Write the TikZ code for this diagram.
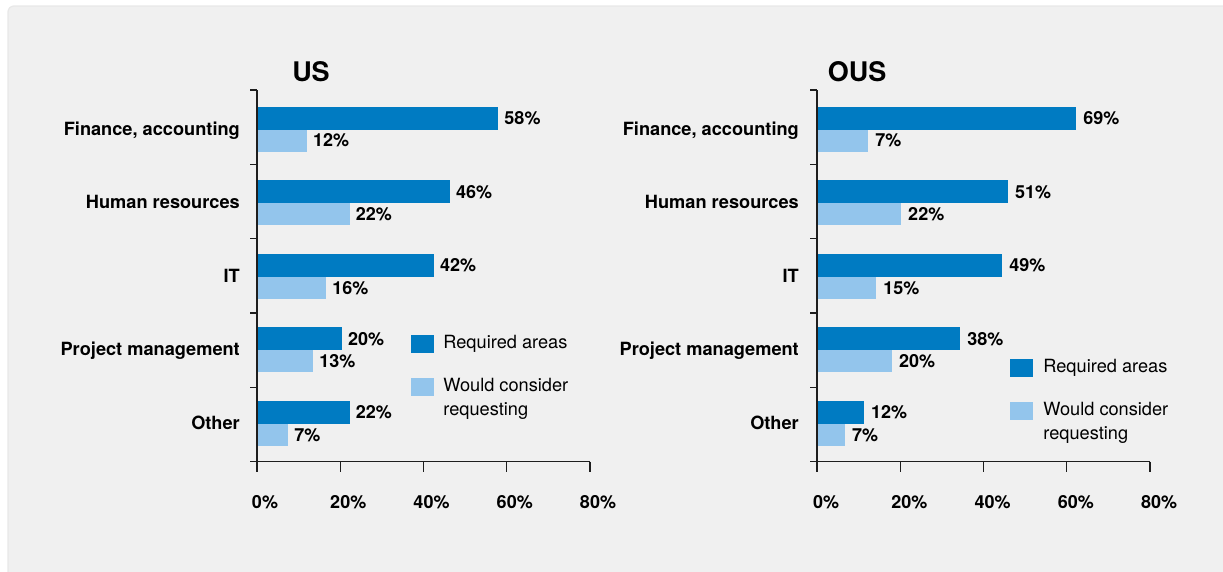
\documentclass[tikz,border=0pt]{standalone}
\usepackage{fontspec}
\setmainfont{TeX Gyre Heros}
\usepackage{xcolor}
\usetikzlibrary{positioning}
\definecolor{reqblue}{HTML}{007BC2}
\definecolor{conblue}{HTML}{93C5EC}
\definecolor{panelgray}{HTML}{F0F0F0}
\definecolor{axisgray}{HTML}{1E1E1E}
\tikzset{%
	panel/.style     = {fill=panelgray, draw=black!9, line width=1.2pt, rounded corners=6pt},
	axisline/.style  = {axisgray, line width=1.4pt},
	reqbar/.style    = {fill=reqblue},
	conbar/.style    = {fill=conblue},
	catlabel/.style  = {anchor=east, inner sep=0pt, text height=13pt, text depth=0pt, font=\fontsize{18.2}{21}\selectfont\bfseries},
	vallabel/.style  = {inner sep=0pt, text height=12.8pt, text depth=0pt, font=\fontsize{18}{21}\selectfont\bfseries},
	ticklabel/.style = {inner sep=0pt, text height=12.8pt, text depth=0pt, font=\fontsize{18}{21}\selectfont\bfseries},
	charttitle/.style= {inner sep=0pt, text height=19.4pt, text depth=0pt, font=\fontsize{27}{30}\selectfont\bfseries},
	legkey/.style    = {minimum width=23pt, minimum height=18pt, inner sep=0pt},
	legtext/.style   = {inner sep=0pt, align=left, font=\fontsize{18.2}{24}\selectfont},
}
\begin{document}
\begin{tikzpicture}[x=1pt,y=-1pt]
	\useasboundingbox (0,0) rectangle (1223,571);
	\fill[white] (0,0) rectangle (1223,571);
	\path[panel] (8,6) rectangle (1240,590);

	% US chart, 0% at x=257, 4.16 per percent
	\begin{scope}[xshift=257pt]
		\node[charttitle] (us-title) at (54,71.5) {US};
		\foreach \cat/\req/\con/\reqlen/\conlen [count=\i from 0] in
			{{Finance, accounting}/58/12/58/12, Human resources/46/22/46.4/22.3, IT/42/16/42.5/16.6, Project management/20/13/20.4/13.5, Other/22/7/22.3/7.5}{
			\pgfmathsetmacro\top{106.5+73.6*\i}
			\fill[reqbar] (0,\top) rectangle (\reqlen*4.16,\top+23);
			\fill[conbar] (0,\top+23) rectangle (\conlen*4.16,\top+45);
			\coordinate (us-req-end-\i) at (\reqlen*4.16,\top+11.5);
			\coordinate (us-con-end-\i) at (\conlen*4.16,\top+34);
			\node[vallabel, right=6pt of us-req-end-\i] (us-req-\i) {\req\%};
			\node[vallabel, right=6pt of us-con-end-\i] (us-con-\i) {\con\%};
			\node[catlabel] (us-cat-\i) at (-17,\top+22) {\cat};
		}
		\draw[axisline] (0,90) -- (0,471.7);  % y axis
		\draw[axisline] (-7,461.7) -- (333,461.7);  % x axis
		\foreach \k in {0,...,4} \draw[axisline] (-7,90+74.3*\k) -- (0,90+74.3*\k);
		\foreach \k in {1,...,4} \draw[axisline] (\k*83.25,461.7) -- (\k*83.25,471.7);
		\foreach \k in {0,...,4}{
			\pgfmathtruncatemacro\pct{20*\k}
			\node[ticklabel] (us-tick-\k) at (\k*83.25+8,501.7) {\pct\%};
		}
		\node[legkey, fill=reqblue] (us-key-req) at (165.5,344) {};
		\node[legkey, fill=conblue] (us-key-con) at (165.5,387) {};
		\node[legtext, right=9pt of us-key-req] (us-leg-req) {Required areas};
		\node[legtext, right=9pt of us-key-con.north east, anchor=north west] (us-leg-con) {Would consider\\requesting};
	\end{scope}

	% OUS chart, 0% at x=817
	\begin{scope}[xshift=817pt]
		\node[charttitle] (ous-title) at (40,72) {OUS};
		\foreach \cat/\req/\con/\reqlen/\conlen [count=\i from 0] in
			{{Finance, accounting}/69/7/62.3/12.3, Human resources/51/22/45.9/20.2, IT/49/15/44.5/14.2, Project management/38/20/34.4/18, Other/12/7/11.3/6.7}{
			\pgfmathsetmacro\top{106.5+73.6*\i}
			\fill[reqbar] (0,\top) rectangle (\reqlen*4.16,\top+23);
			\fill[conbar] (0,\top+23) rectangle (\conlen*4.16,\top+45);
			\coordinate (ous-req-end-\i) at (\reqlen*4.16,\top+11.5);
			\coordinate (ous-con-end-\i) at (\conlen*4.16,\top+34);
			\node[vallabel, right=7pt of ous-req-end-\i] (ous-req-\i) {\req\%};
			\node[vallabel, right=7pt of ous-con-end-\i] (ous-con-\i) {\con\%};
			\node[catlabel] (ous-cat-\i) at (-18,\top+22) {\cat};
		}
		\draw[axisline] (0,90) -- (0,471.7);  % y axis
		\draw[axisline] (-7,461.7) -- (333,461.7);  % x axis
		\foreach \k in {0,...,4} \draw[axisline] (-7,90+74.3*\k) -- (0,90+74.3*\k);
		\foreach \k in {1,...,4} \draw[axisline] (\k*83.25,461.7) -- (\k*83.25,471.7);
		\foreach \k in {0,...,4}{
			\pgfmathtruncatemacro\pct{20*\k}
			\node[ticklabel] (ous-tick-\k) at (\k*83.25+9,501.7) {\pct\%};
		}
		\node[legkey, fill=reqblue] (ous-key-req) at (204.5,368) {};
		\node[legkey, fill=conblue] (ous-key-con) at (204.5,411) {};
		\node[legtext, right=10pt of ous-key-req] (ous-leg-req) {Required areas};
		\node[legtext, right=10pt of ous-key-con.north east, anchor=north west] (ous-leg-con) {Would consider\\requesting};
	\end{scope}
\end{tikzpicture}
\end{document}
